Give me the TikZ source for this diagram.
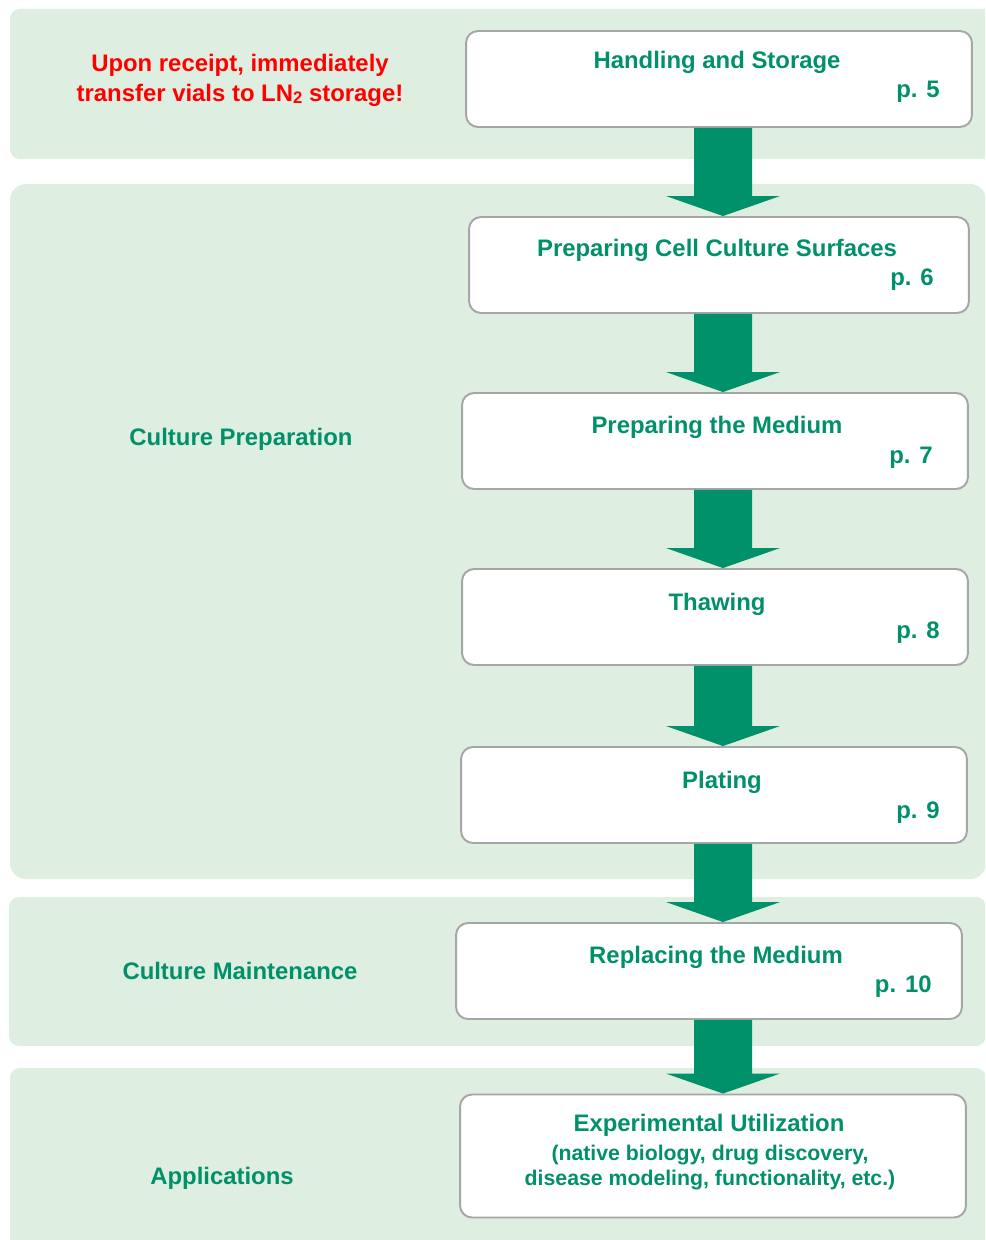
\documentclass[tikz,border=0pt]{standalone}
\usepackage{fontspec}
\setmainfont{Liberation Sans}
\usetikzlibrary{calc}
\definecolor{panelgreen}{RGB}{222,238,224}
\definecolor{stepgreen}{RGB}{0,145,106}
\definecolor{boxgray}{RGB}{166,166,166}
% fat arrow from the bottom of one box to the top of the next
\newcommand{\flowarrow}[2]{%
  \fill[stepgreen] ($(#1.south -| ax)+(-29,0)$) -- ($(#1.south -| ax)+(29,0)$)
    -- ($(#2.north -| ax)+(29,-20)$) -- ($(#2.north -| ax)+(57,-20)$)
    -- (#2.north -| ax) -- ($(#2.north -| ax)+(-57,-20)$)
    -- ($(#2.north -| ax)+(-29,-20)$) -- cycle;}
\newcommand{\lnsub}{\raisebox{-0.8pt}{\fontsize{9.5}{10}\selectfont 2}}
\begin{document}
\begin{tikzpicture}[x=0.02cm,y=-0.02cm,
        panel/.style={fill=panelgreen, rounded corners=0.2cm},
        stepbox/.style={draw=boxgray, line width=1.1pt, fill=white, rounded corners=0.24cm,
          minimum width=10.12cm, minimum height=1.92cm, inner sep=0pt},
        title/.style={text=stepgreen, font=\bfseries\fontsize{13.6}{16}\selectfont, anchor=base, inner sep=0pt},
        page/.style={title, anchor=base east},
        small/.style={title, font=\bfseries\fontsize{12.1}{14}\selectfont},
        note/.style={title, text=red}]
        \useasboundingbox (0,0) rectangle (985,1240);
        \clip (0,0) rectangle (985,1240);

        % panels
        \fill[panel] (10,9)    rectangle (1005,159);
        \fill[panel,rounded corners=0.32cm] (10,184) rectangle (986,879);
        \fill[panel] (9,897)   rectangle (986,1046);
        \fill[panel] (10,1068) rectangle (986,1260);

        \node[note] (rcpt1) at (240,72)  {Upon receipt, immediately};
        \node[note] (rcpt2) at (240,102) {transfer vials to LN\lnsub{} storage!};
        \node[title] (prep)  at (241,445)  {Culture Preparation};
        \node[title] (maint) at (240,979)  {Culture Maintenance};
        \node[title] (appl)  at (222,1184) {Applications};

        % steps
        \node[stepbox] (hs)   at (719,79)  {};
        \node[stepbox, minimum width=10cm] (surf) at (719,265) {};
        \node[stepbox] (med)  at (715,441) {};
        \node[stepbox] (thaw) at (715,617) {};
        \node[stepbox] (plat) at (714,795) {};
        \node[stepbox] (repl) at (709,971) {};
        \node[stepbox, minimum height=2.46cm] (expt) at (713,1156) {};

        \node[title] (hs t)   at (717,69)  {Handling and Storage};
        \node[page]  (hs p)   at (940,98)  {p. 5};
        \node[title] (surf t) at (717,256) {Preparing Cell Culture Surfaces};
        \node[page]  (surf p) at (934,285) {p. 6};
        \node[title] (med t)  at (717,433) {Preparing the Medium};
        \node[page]  (med p)  at (933,463) {p. 7};
        \node[title] (thaw t) at (717,610) {Thawing};
        \node[page]  (thaw p) at (940,638) {p. 8};
        \node[title] (plat t) at (722,788) {Plating};
        \node[page]  (plat p) at (940,818) {p. 9};
        \node[title] (repl t) at (716,963) {Replacing the Medium};
        \node[page]  (repl p) at (932,992) {p. 10};
        \node[title] (expt t) at (709,1131) {Experimental Utilization};
        \node[small] (expt a) at (710,1160) {(native biology, drug discovery,};
        \node[small] (expt b) at (710,1185) {disease modeling, functionality, etc.)};

        % arrows
        \coordinate (ax) at (723,0);
        \flowarrow{hs}{surf}
        \flowarrow{surf}{med}
        \flowarrow{med}{thaw}
        \flowarrow{thaw}{plat}
        \flowarrow{plat}{repl}
        \flowarrow{repl}{expt}
      \end{tikzpicture}
\end{document}
